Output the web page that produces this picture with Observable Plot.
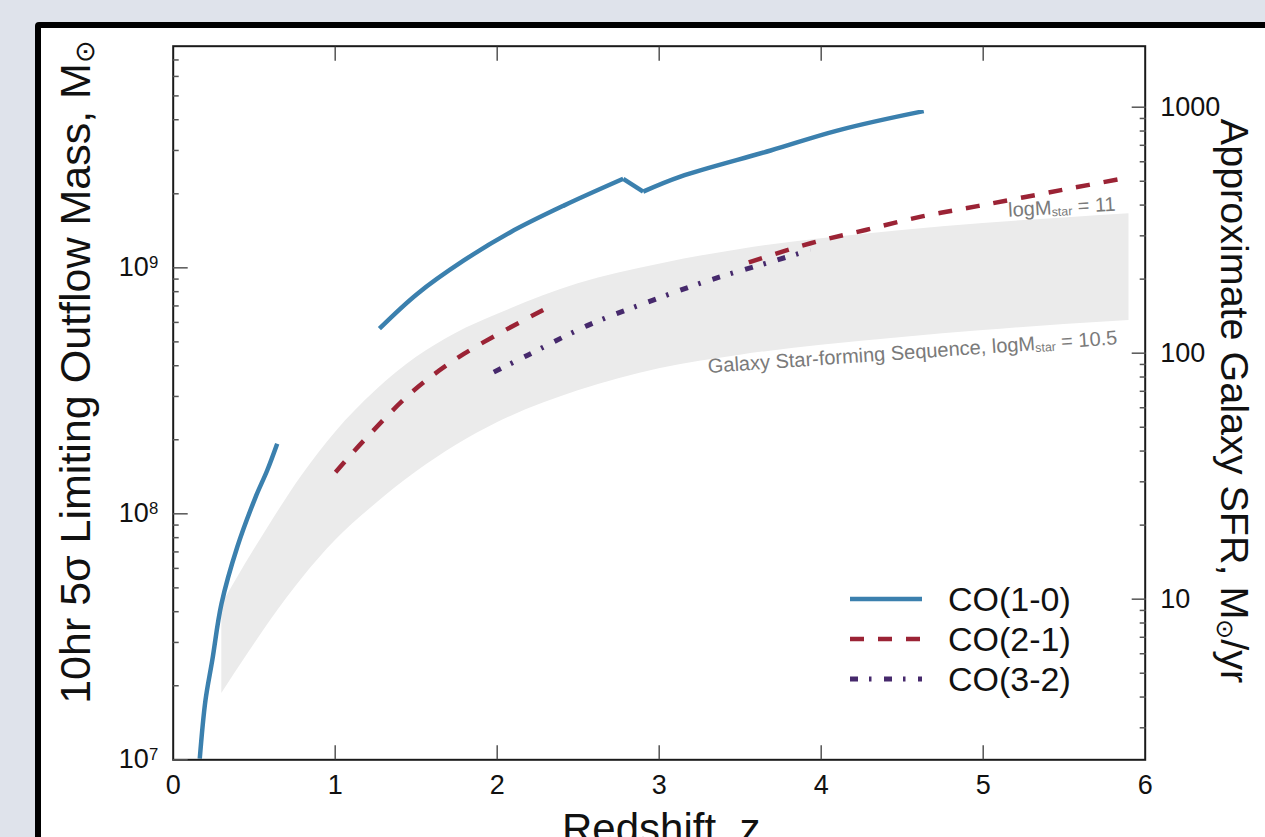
<!DOCTYPE html>
<html><head><meta charset="utf-8">
<script src="https://cdn.jsdelivr.net/npm/d3@7"></script>
<script src="https://cdn.jsdelivr.net/npm/@observablehq/plot@0.6"></script>
<style>
html,body{margin:0;padding:0;width:1265px;height:837px;overflow:hidden;background:#dfe3eb;font-family:"Liberation Sans",Arial,sans-serif;}
#panel{position:absolute;left:35px;top:22px;width:1400px;height:1000px;border:6px solid #000;border-radius:4px;background:#fff;}
#chart{position:absolute;left:0;top:0;}
#legend{position:absolute;left:850px;top:579px;}
.row{display:flex;align-items:center;height:40px;}
.row span{margin-left:26px;font-size:34px;color:#111;line-height:40px;}
</style></head><body>
<div id="panel"></div><div id="chart"></div><div id="legend"></div>
<script>
// ---- data (redshift z, log10 outflow mass) ----
const co10aZ = [0.164, 0.199, 0.241, 0.298, 0.395, 0.508, 0.580, 0.642];
const co10aLogM = [7.005, 7.241, 7.404, 7.634, 7.864, 8.067, 8.176, 8.285];
const co10bZ = [1.273, 1.506, 1.794, 2.082, 2.411, 2.778];
const co10bLogM = [8.753, 8.894, 9.030, 9.145, 9.253, 9.362];
const co10cZ = [2.901, 3.131, 3.688, 4.099, 4.633];
const co10cLogM = [9.310, 9.371, 9.477, 9.558, 9.637];
const co21aZ = [1.002, 1.177, 1.485, 1.794, 2.284];
const co21aLogM = [8.169, 8.298, 8.501, 8.650, 8.829];
const co21bZ = [3.553, 3.935, 4.274, 4.623, 4.973, 5.498, 5.900];
const co21bLogM = [9.022, 9.100, 9.154, 9.209, 9.252, 9.318, 9.368];
const co32Z = [1.979, 2.185, 2.556, 2.926, 3.317, 3.718, 3.934];
const co32LogM = [8.576, 8.644, 8.765, 8.860, 8.951, 9.030, 9.073];
const bandZ = [0.30, 0.45, 0.6, 0.8, 1.0, 1.25, 1.5, 1.75, 2.0, 2.5, 3.0, 3.5, 4.0, 4.5, 5.0, 5.5, 5.9];
const bandLowLogM = [7.27, 7.42, 7.565, 7.74, 7.89, 8.04, 8.17, 8.28, 8.37, 8.50, 8.59, 8.645, 8.685, 8.717, 8.745, 8.77, 8.786];
const bandHighLogM = [7.63, 7.80, 7.96, 8.16, 8.33, 8.50, 8.635, 8.735, 8.81, 8.935, 9.015, 9.075, 9.118, 9.152, 9.18, 9.203, 9.22];
// ---- ticks ----
const xTicks = [0, 1, 2, 3, 4, 5, 6];
const xInnerTicks = [1, 2, 3, 4, 5];
const massMajor = [1e7, 1e8, 1e9];
const massMinor = [2e7,3e7,4e7,5e7,6e7,7e7,8e7,9e7,2e8,3e8,4e8,5e8,6e8,7e8,8e8,9e8,2e9,3e9,4e9,5e9,6e9,7e9];
const sfrMajor = [10, 100, 1000];
const sfrMinor = [3,4,5,6,7,8,9,20,30,40,50,60,70,80,90,200,300,400,500,600,700,800,900];
const sfrRatio = 10 ** 6.653;   // mass per unit SFR for the right-hand axis
const massTop = 10 ** 9.901;
// ---- series ----
const seriesNames = ["CO(1-0)", "CO(2-1)", "CO(3-2)"];
const seriesColors = ["#3b80ae", "#9b2335", "#46296c"];
const seriesDash = [null, "14,14", "8,11,2.5,12.5"];
const seriesWidth = [4.5, 4.5, 5];

const rows = (zs, ls) => zs.map((z, i) => ({z, m: 10 ** ls[i]}));
const blueA = rows(co10aZ, co10aLogM), blueB = rows(co10bZ, co10bLogM), blueC = rows(co10cZ, co10cLogM);
const blueDip = [blueB[blueB.length - 1], blueC[0]];
const redA = rows(co21aZ, co21aLogM), redB = rows(co21bZ, co21bLogM);
const purple = rows(co32Z, co32LogM);
const band = bandZ.map((z, i) => ({z, lo: 10 ** bandLowLogM[i], hi: 10 ** bandHighLogM[i]}));

const ln = (data, k, curve = "catmull-rom") => Plot.line(data, {x: "z", y: "m", stroke: seriesColors[k], strokeWidth: seriesWidth[k], strokeDasharray: seriesDash[k], strokeLinecap: "butt", curve, clip: true});
const tickStyle = {stroke: "#555", strokeWidth: 1.5, tickFormat: () => "", label: null};
const TICKFONT = 27;

const plot = Plot.plot({
  width: 1265, height: 837,
  marginLeft: 172.7, marginRight: 120.3, marginTop: 45.7, marginBottom: 77.7,
  style: {background: "transparent", fontFamily: "'Liberation Sans', Arial, sans-serif", fontSize: "25px", color: "#111", overflow: "visible"},
  x: {domain: [0, 6]},
  y: {type: "log", domain: [1e7, massTop]},
  marks: [
    Plot.areaY(band, {x: "z", y1: "lo", y2: "hi", fill: "#ebebeb", curve: "monotone-x"}),
    Plot.text(["logM_{star} = 11"], {x: 5.817, y: 10 ** 9.2585, text: d => d, textAnchor: "end", rotate: -3.2, fontSize: 20, fill: "#7a7a7a"}),
    Plot.text(["Galaxy Star-forming Sequence, logM_{star} = 10.5"], {x: 5.827, y: 10 ** 8.715, text: d => d, textAnchor: "end", rotate: -4, fontSize: 20, fill: "#7a7a7a"}),
    ln(blueA, 0), ln(blueB, 0), ln(blueDip, 0, "linear"), ln(blueC, 0),
    ln(redA, 1), ln(redB, 1),
    ln(purple, 2),
    Plot.frame({stroke: "#1a1a1a", strokeWidth: 2}),
    Plot.axisX({anchor: "bottom", ticks: xInnerTicks, tickSize: -14, ...tickStyle}),
    Plot.axisX({anchor: "top", ticks: xInnerTicks, tickSize: -14, ...tickStyle}),
    Plot.axisY({anchor: "left", ticks: massMajor, tickSize: -15, ...tickStyle}),
    Plot.axisY({anchor: "left", ticks: massMinor, tickSize: -6, ...tickStyle}),
    Plot.axisY({anchor: "right", ticks: sfrMajor.map(s => s * sfrRatio), tickSize: -14, ...tickStyle}),
    Plot.axisY({anchor: "right", ticks: sfrMinor.map(s => s * sfrRatio), tickSize: -6, ...tickStyle}),
    // tick labels
    Plot.text(xTicks, {x: d => d, frameAnchor: "bottom", dy: 15, lineAnchor: "top", textAnchor: "middle", text: d => String(d), fontSize: TICKFONT, fill: "#111"}),
    Plot.text(massMajor, {y: d => d, frameAnchor: "left", dx: -15, textAnchor: "end", lineAnchor: "middle", text: d => `10^{${Math.round(Math.log10(d))}}`, fontSize: TICKFONT, fill: "#111"}),
    Plot.text(sfrMajor, {y: d => d * sfrRatio, frameAnchor: "right", dx: 15, textAnchor: "start", lineAnchor: "middle", text: d => String(d), fontSize: TICKFONT, fill: "#111"}),
    // axis titles
    Plot.text(["10hr 5σ Limiting Outflow Mass, M_{⊙}"], {text: d => d, frameAnchor: "left", dx: -83.7, dy: -31, rotate: -90, textAnchor: "middle", lineAnchor: "bottom", fontSize: 43, fill: "#111"}),
    Plot.text(["Approximate Galaxy SFR, M_{⊙}/yr"], {text: d => d, frameAnchor: "right", dx: 75.3, dy: -2, rotate: 90, textAnchor: "middle", lineAnchor: "bottom", fontSize: 39.5, fill: "#111"}),
    Plot.text(["Redshift, z"], {text: d => d, frameAnchor: "bottom", dx: 2, dy: 53.7, textAnchor: "middle", lineAnchor: "top", fontSize: 42, fill: "#111"})
  ]
});
document.getElementById("chart").append(plot);

// rich text: _{sub} and ^{sup}
const NS = "http://www.w3.org/2000/svg";
d3.select(plot).selectAll("text").each(function () {
  const s = this.textContent;
  if (!/[_^]\{/.test(s)) return;
  const fs = parseFloat(getComputedStyle(this).fontSize);
  const parts = s.split(/([_^]\{[^}]*\})/).filter(p => p.length);
  this.textContent = "";
  let cur = 0;
  for (const p of parts) {
    const ts = document.createElementNS(NS, "tspan");
    let target = 0, txt = p;
    if (p.startsWith("_{")) { target = 0.1 * fs; txt = p.slice(2, -1); ts.setAttribute("font-size", (0.62 * fs) + "px"); }
    else if (p.startsWith("^{")) { target = -0.33 * fs; txt = p.slice(2, -1); ts.setAttribute("font-size", (0.62 * fs) + "px"); }
    if (target !== cur) ts.setAttribute("dy", (target - cur) + "px");
    cur = target;
    ts.textContent = txt;
    this.appendChild(ts);
  }
});

// legend
const legend = d3.select("#legend");
seriesNames.forEach((name, k) => {
  const row = legend.append("div").attr("class", "row");
  const svg = row.append("svg").attr("width", 72).attr("height", 12);
  svg.append("line").attr("x1", 0).attr("x2", 72).attr("y1", 6).attr("y2", 6)
    .attr("stroke", seriesColors[k]).attr("stroke-width", seriesWidth[k])
    .attr("stroke-dasharray", seriesDash[k]);
  row.append("span").text(name);
});
</script></body></html>
